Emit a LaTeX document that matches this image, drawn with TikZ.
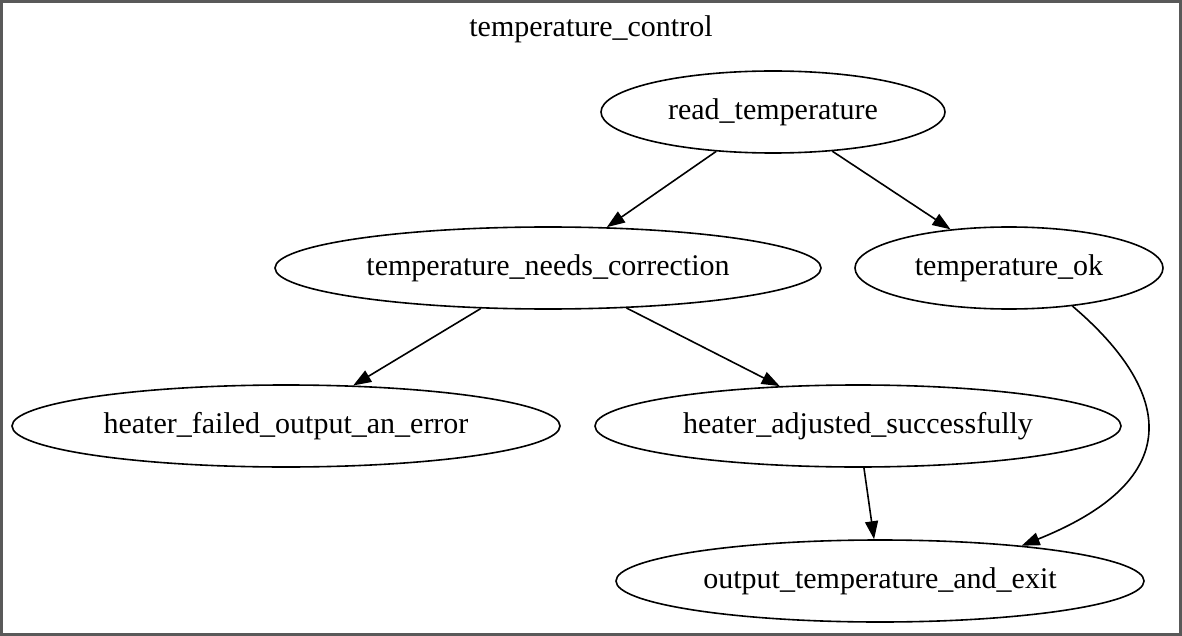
\documentclass[tikz,border=0pt]{standalone}
\usepackage{fontspec}
\setmainfont{Liberation Serif}
\usetikzlibrary{shapes.geometric,arrows.meta}

\begin{document}
\begin{tikzpicture}[x=0.5pt, y=-0.5pt, >={Triangle[length=9pt,width=6.5pt]}, line width=0.8pt,
  task/.style={draw, ellipse, inner sep=0pt, minimum height=41pt, font=\fontsize{15}{18}\selectfont}]
\useasboundingbox (0,0) rectangle (1182,636);
\draw[line width=1.5pt, black!65] (1.5,1.5) rectangle (1180.5,634.5);
\node[font=\fontsize{15}{18}\selectfont] (title) at (591,29) {temperature\_control};
% Vertices of the graph
\node [task, minimum width=172pt] (read) at (773,112) {read\_temperature};
\node [task, minimum width=273pt] (needs) at (548,268) {temperature\_needs\_correction};
\node [task, minimum width=154pt] (ok) at (1009,268) {temperature\_ok};
\node [task, minimum width=274pt] (failed) at (286,426) {heater\_failed\_output\_an\_error};
\node [task, minimum width=263pt] (adjusted) at (858,426) {heater\_adjusted\_successfully};
\node [task, minimum width=264pt] (output) at (880,581) {output\_temperature\_and\_exit};
% edges of the graph
\path[->]
(read) edge (needs)
(read) edge (ok)
(needs) edge (failed)
(needs) edge (adjusted)
(adjusted) edge (output)
;
\draw[->] (ok.-31) .. controls (1150,372) and (1210,470) .. (output.14);
\end{tikzpicture}
\end{document}
